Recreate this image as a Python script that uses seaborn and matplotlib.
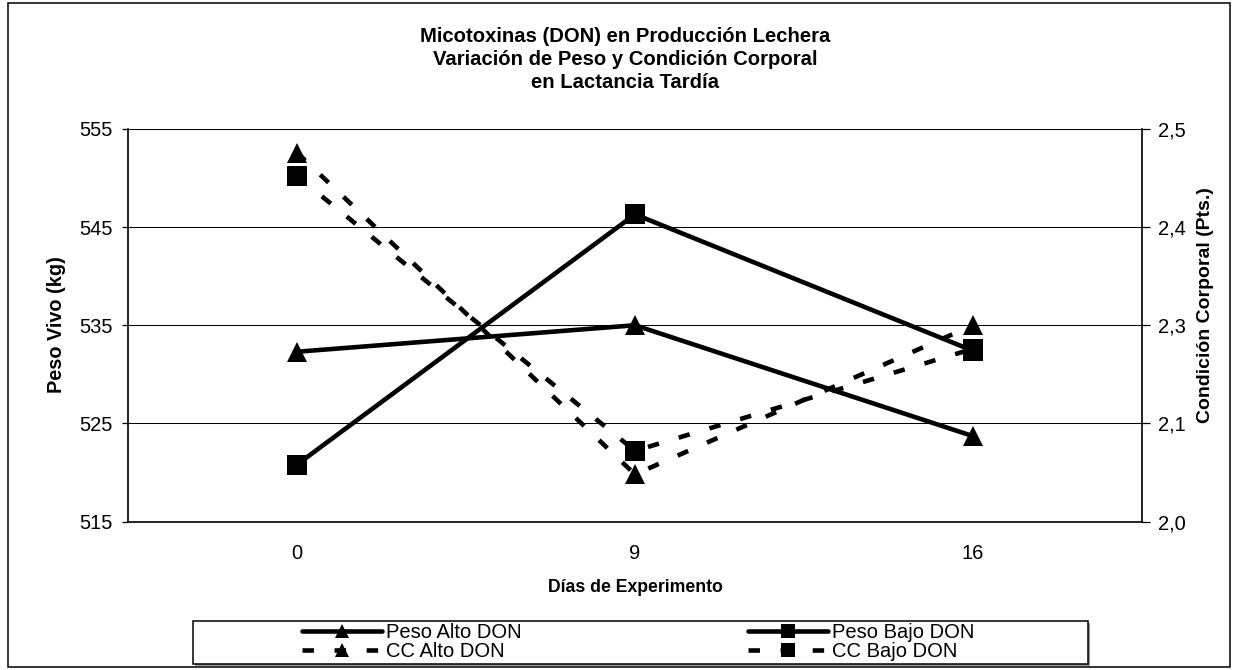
import matplotlib
matplotlib.use("Agg")
import matplotlib.pyplot as plt
import seaborn as sns
from matplotlib.lines import Line2D
from matplotlib.patches import Rectangle

sns.set_theme(style="white")
plt.rcParams['font.family'] = ['Liberation Sans', 'DejaVu Sans']

# Data
dias = ["0", "9", "16"]
peso_alto = [532.3, 535.0, 523.7]
peso_bajo = [520.8, 546.3, 532.4]
cc_alto = [2.47, 2.06, 2.25]
cc_bajo = [2.44, 2.09, 2.22]

left_ticks = [515, 525, 535, 545, 555]
right_ticks = [2.0, 2.125, 2.25, 2.375, 2.5]
right_tick_labels = ["2,0", "2,1", "2,3", "2,4", "2,5"]

W, H = 1238, 670
DPI = 100
fig = plt.figure(figsize=(W / DPI, H / DPI), dpi=DPI)
fig.patch.set_facecolor("white")


def fx(px):
    return px / W


def fy(py):
    return 1 - py / H


ax = fig.add_axes([fx(128), fy(521.5), fx(1142) - fx(128), fy(129) - fy(521.5)])
ax2 = ax.twinx()

LW = 3.3
MS = 14.4
DASH = (0, (2.5, 4.5))

sns.lineplot(x=dias, y=peso_alto, ax=ax, color="black", lw=LW, marker="^",
             markersize=MS, markeredgewidth=0, markeredgecolor="black",
             sort=False, legend=False)
sns.lineplot(x=dias, y=peso_bajo, ax=ax, color="black", lw=LW, marker="s",
             markersize=MS, markeredgewidth=0, markeredgecolor="black",
             sort=False, legend=False)
sns.lineplot(x=dias, y=cc_alto, ax=ax2, color="black", lw=LW, marker="^",
             markersize=MS, markeredgewidth=0, markeredgecolor="black",
             linestyle=DASH, sort=False, legend=False)
sns.lineplot(x=dias, y=cc_bajo, ax=ax2, color="black", lw=LW, marker="s",
             markersize=MS, markeredgewidth=0, markeredgecolor="black",
             linestyle=DASH, sort=False, legend=False)

ax.set_xlim(-0.5, 2.5)
ax.set_ylim(515, 555)
ax2.set_ylim(2.0, 2.5)
ax.set_yticks(left_ticks)
ax.set_yticklabels([str(t) for t in left_ticks])
ax2.set_yticks(right_ticks)
ax2.set_yticklabels(right_tick_labels)

ax.grid(axis="y", color="black", lw=0.75)
ax.grid(axis="x", visible=False)
ax2.grid(False)
ax.set_axisbelow(True)

for a in (ax, ax2):
    for s in a.spines.values():
        s.set_visible(False)
    a.set_xlabel("")
    a.set_ylabel("")
ax.spines["left"].set_visible(True)
ax.spines["left"].set_color("black")
ax.spines["left"].set_linewidth(1.2)
ax.spines["bottom"].set_visible(True)
ax.spines["bottom"].set_color("black")
ax.spines["bottom"].set_linewidth(1.2)
ax2.spines["right"].set_visible(True)
ax2.spines["right"].set_color("black")
ax2.spines["right"].set_linewidth(1.2)

ax.tick_params(axis="y", left=True, direction="out", length=4.3, width=0.9,
               color="black", pad=7, labelsize=14.5, labelcolor="black")
ax.tick_params(axis="x", bottom=True, length=0, pad=16.5, labelsize=14.5,
               labelcolor="black")
ax2.tick_params(axis="y", right=True, direction="out", length=5.8, width=0.9,
                color="black", pad=5.5, labelsize=14.5, labelcolor="black")

# Titles and axis labels
title_lines = ["Micotoxinas (DON) en Producción Lechera",
               "Variación de Peso y Condición Corporal",
               "en Lactancia Tardía"]
for line, base in zip(title_lines, [41.7, 65, 88.3]):
    fig.text(fx(625), fy(base), line, ha="center", va="baseline",
             fontsize=14.6, fontweight="bold", color="black")

fig.text(fx(635), fy(587), "Días de Experimento", ha="center", va="center",
         fontsize=12.7, fontweight="bold", color="black")
fig.text(fx(56), fy(325), "Peso Vivo (kg)", ha="center", va="center",
         rotation=90, fontsize=14.3, fontweight="bold", color="black")
fig.text(fx(1205), fy(305), "Condición Corporal (Pts.)", ha="center",
         va="center", rotation=90, fontsize=14.0, fontweight="bold",
         color="black")

# Legend box with shadow
fig.patches.append(Rectangle((fx(195), fy(666)), fx(1090) - fx(195),
                             fy(622.7) - fy(666), transform=fig.transFigure,
                             facecolor="#9a9a9a", edgecolor="none", zorder=1))
fig.patches.append(Rectangle((fx(193), fy(664)), fx(1088) - fx(193),
                             fy(620.7) - fy(664), transform=fig.transFigure,
                             facecolor="white", edgecolor="black", lw=1.1,
                             zorder=2))

LEG_FS = 14.5
fs_px = LEG_FS * DPI / 72
entries = [
    ("Peso Alto DON", "^", "-", 302, 632.7),
    ("CC Alto DON", "^", DASH, 302, 651.5),
    ("Peso Bajo DON", "s", "-", 748, 632.7),
    ("CC Bajo DON", "s", DASH, 748, 651.5),
]
for label, mk, ls, xp, yp in entries:
    h = Line2D([], [], color="black", lw=LW, linestyle=ls, marker=mk,
               markersize=10.5, markeredgewidth=0)
    leg = fig.legend(handles=[h], labels=[label], loc="center left",
                     bbox_to_anchor=(fx(xp), fy(yp)), frameon=False,
                     borderpad=0, borderaxespad=0, fontsize=LEG_FS,
                     handlelength=80 / fs_px, handletextpad=4 / fs_px,
                     numpoints=1)
    leg.set_zorder(5)
    for t in leg.get_texts():
        t.set_color("black")

# Outer chart border
fig.patches.append(Rectangle((fx(8), fy(667)), fx(1230) - fx(8),
                             fy(3) - fy(667), transform=fig.transFigure,
                             facecolor="none", edgecolor="black", lw=1.1,
                             zorder=0))

fig.savefig("out.png", dpi=DPI, facecolor="white")
